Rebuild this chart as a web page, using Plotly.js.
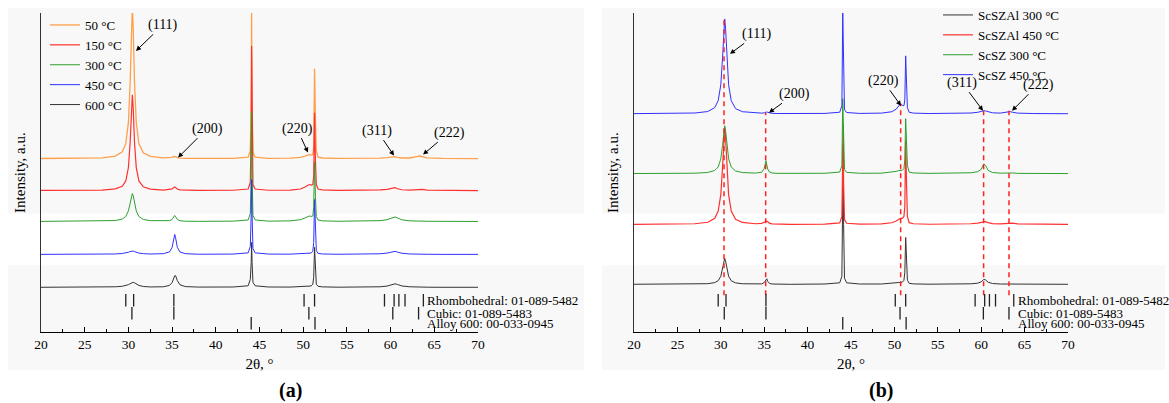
<!DOCTYPE html>
<html>
<head>
<meta charset="utf-8">
<script src="https://cdn.plot.ly/plotly-3.0.1.min.js"></script>
<style>html,body{margin:0;padding:0;background:#fff;}#chart{width:1169px;height:403px;}</style>
</head>
<body>
<div id="chart"></div>
<script>
// 2θ grid (degrees)
const twoTheta = [
  20, 24, 27, 28.5, 29.3, 29.7, 30.0, 30.2, 30.35, 30.45, 30.55, 30.7, 30.9, 31.2, 31.7, 32.5,
  34, 34.7, 35.0, 35.2, 35.3, 35.4, 35.6, 35.9, 36.5, 38,
  42, 43.7, 43.95, 44.05, 44.1, 44.15, 44.25, 44.5, 46,
  48.5, 49.7, 50.2, 50.5, 50.7, 50.9, 51.1, 51.2, 51.3, 51.4, 51.5, 51.7, 52.2, 54,
  57, 58.8, 59.6, 60.0, 60.3, 60.5, 60.8, 61.3, 62.2, 62.8, 63.1, 63.3, 63.6, 64.2, 66, 70
];

// Panel (a) intensities (a.u., above each pattern's baseline)
const a50C = [
  0.1, 0.2, 0.8, 2.5, 6.8, 15, 36, 76, 131, 152, 131, 76, 36, 15, 5.8, 2.2,
  0.8, 0.8, 1.2, 2.2, 2.4, 2, 1, 0.5, 0.3, 0.2,
  0.3, 1.5, 8, 60, 147, 60, 6, 1.5, 0.3,
  0.4, 1.2, 2.5, 3.8, 4, 3.5, 4, 12, 90, 40, 8, 1.5, 0.6, 0.2,
  0.2, 0.5, 1, 1.6, 2.2, 2, 1.2, 0.6, 0.6, 1.2, 2.2, 2.6, 1.8, 0.7, 0.2, 0
];
const a150C = [
  0.1, 0.15, 0.5, 1.6, 4.3, 9.6, 23, 48, 83, 96, 83, 48, 23, 9.6, 3.7, 1.4,
  0.5, 1, 1.6, 3, 3.5, 3, 1.5, 0.6, 0.3, 0.2,
  0.3, 1.5, 8, 60, 145, 60, 6, 1.5, 0.3,
  0.5, 1.5, 3.5, 5.5, 6, 5.5, 6, 14, 78, 30, 6, 1.5, 0.6, 0.2,
  0.2, 0.6, 1.2, 2.2, 3, 2.8, 1.8, 0.8, 0.5, 0.9, 1.4, 1.6, 1.2, 0.5, 0.2, 0
];
const a300C = [
  0.05, 0.1, 0.3, 0.9, 2.4, 5, 10.6, 18.5, 25.9, 28, 25.9, 18.5, 10.6, 5, 2, 0.8,
  0.4, 0.8, 2, 4.8, 6, 4.8, 2, 0.7, 0.25, 0.1,
  0.3, 1.5, 8, 50, 110, 50, 6, 1.5, 0.3,
  0.6, 1.8, 3.5, 5, 5.5, 5, 5.5, 14, 60, 25, 5, 1.5, 0.6, 0.2,
  0.3, 0.8, 1.8, 3, 4.2, 4.5, 3.5, 1.6, 0.6, 0.4, 0.5, 0.5, 0.4, 0.2, 0.1, 0
];
const a450C = [
  0, 0.05, 0.15, 0.4, 0.9, 1.4, 2.1, 2.8, 3.3, 3.5, 3.3, 2.8, 2.1, 1.3, 0.7, 0.35,
  0.7, 2.4, 7, 16.6, 20, 16.6, 7, 2.4, 0.7, 0.15,
  0.3, 1.5, 8, 40, 75, 40, 6, 1.5, 0.3,
  0.2, 0.5, 0.8, 1, 1.1, 1.3, 3, 12, 55, 20, 4, 1, 0.4, 0.1,
  0.2, 0.6, 1.3, 2.2, 3, 3, 2.3, 1.1, 0.4, 0.2, 0.2, 0.2, 0.2, 0.1, 0, 0
];
const a600C = [
  0, 0.05, 0.2, 0.5, 1, 1.6, 2.6, 3.6, 4.4, 4.9, 5, 4.5, 3.3, 1.9, 0.8, 0.35,
  0.5, 1.9, 4.7, 9.3, 11.6, 11.6, 6.7, 2.5, 0.7, 0.2,
  0.3, 1.5, 8, 25, 45, 25, 5, 1.5, 0.3,
  0.2, 0.5, 0.8, 1, 1.1, 1.3, 3, 10, 40, 15, 3, 1, 0.4, 0.1,
  0.2, 0.5, 1.2, 2.2, 3.2, 3.5, 2.8, 1.3, 0.5, 0.3, 0.2, 0.2, 0.2, 0.1, 0, 0
];

// Panel (b) intensities
const bScSZAl300 = [
  0.02, 0.06, 0.2, 0.6, 1.7, 3.6, 8, 15.3, 23.4, 26, 23.4, 15.3, 8, 3.6, 1.4, 0.55,
  0.1, 0.4, 1.7, 5, 5.5, 3, 0.9, 0.3, 0.1, 0,
  0.3, 1.5, 8, 70, 140, 60, 6, 1.5, 0.3,
  0.3, 0.8, 1.3, 1.8, 2, 2, 4, 12, 47, 22, 4, 1, 0.4, 0.1,
  0.2, 0.5, 1.1, 2.5, 4.9, 4.4, 2.1, 0.8, 0.3, 0.3, 0.4, 0.4, 0.3, 0.1, 0, 0
];
const bScSZAl450 = [
  0.08, 0.2, 0.7, 2.2, 6.2, 13.4, 29.9, 57, 87, 97, 87, 57, 29.9, 13.4, 5.2, 2,
  0.7, 1.1, 1.8, 3, 3.2, 2.6, 1.3, 0.6, 0.3, 0.1,
  0.3, 1.5, 8, 60, 100, 40, 5, 1.2, 0.3,
  0.6, 1.7, 3.5, 5.5, 6.2, 6, 8, 18, 84, 40, 8, 1.8, 0.7, 0.2,
  0.3, 0.7, 1.3, 2.3, 3, 2.8, 1.8, 0.9, 0.5, 0.9, 1.6, 1.8, 1.3, 0.5, 0.2, 0
];
const bScSZ300 = [
  0.04, 0.1, 0.36, 1.1, 3.1, 6.6, 14.8, 28.3, 43.2, 48, 43.2, 28.3, 14.8, 6.6, 2.6, 1,
  0.5, 1.3, 4.8, 13, 9, 4.7, 1.6, 0.6, 0.2, 0.1,
  0.3, 1.5, 8, 75, 50, 25, 4, 1.2, 0.3,
  0.4, 1.2, 2.2, 3, 3.3, 3.2, 5, 14, 55, 35, 8, 1.5, 0.6, 0.2,
  0.3, 0.8, 1.9, 4.2, 9.7, 8.2, 3.2, 1.1, 0.4, 0.5, 0.8, 0.9, 0.6, 0.2, 0.1, 0
];
const bScSZ450 = [
  0.08, 0.2, 0.7, 2.2, 6.1, 13.1, 29, 56, 85.5, 95, 85.5, 56, 29, 13.1, 5.1, 2,
  0.7, 0.6, 0.8, 1.6, 1.8, 1.4, 0.7, 0.4, 0.2, 0.1,
  0.3, 1.5, 8, 101, 75, 30, 4, 1.2, 0.3,
  0.6, 2, 4.5, 8, 10, 8.5, 8, 14, 58, 30, 6, 1.5, 0.6, 0.2,
  0.3, 0.7, 1.4, 2.4, 3, 2.8, 1.8, 0.9, 0.6, 1.2, 2, 2.1, 1.5, 0.6, 0.2, 0
];

// Reference pattern line positions (2θ)
const rhombohedral = [29.7, 30.6, 35.2, 50.1, 51.3, 59.3, 60.4, 60.95, 61.65, 63.75];
const cubic = [30.4, 35.2, 50.65, 60.25, 63.2];
const alloy600 = [44.05, 51.35];
const refLabels = ['Rhombohedral: 01-089-5482', 'Cubic: 01-089-5483', 'Alloy 600: 00-033-0945'];

// Dashed guide lines in (b)
const guideX = [30.37, 35.17, 50.72, 60.28, 63.2];

// Peak labels
const hklLabels = ['(111)', '(200)', '(220)', '(311)', '(222)'];
const namesA = ['50 °C', '150 °C', '300 °C', '450 °C', '600 °C'];
const namesB = ['ScSZAl 300 °C', 'ScSZAl 450 °C', 'ScSZ 300 °C', 'ScSZ 450 °C'];

// ---------- layout / styling ----------
const W = 1169, H = 403;
const FONT = 'Liberation Serif, Times New Roman, serif';
const seriesA = [a50C, a150C, a300C, a450C, a600C];
const offsetsA = [174, 142, 111, 78, 45];
const colorsA = ['#ffa04a', '#ff3030', '#2ca02c', '#3030ff', '#333333'];
const widthsA = [1.3, 1.2, 1, 1, 1];
const seriesB = [bScSZAl300, bScSZAl450, bScSZ300, bScSZ450];
const offsetsB = [48, 108, 159, 219];
const colorsB = ['#333333', '#ff3030', '#2ca02c', '#3030ff'];
const widthsB = [1, 1.2, 1, 1];
const refRowY = [32, 19, 9];
const guideTop = [315, 220, 229, 222, 222];
const guideBottom = 37;

const traces = [];
seriesA.forEach((s, i) => traces.push({
  x: twoTheta, y: s.map(v => v + offsetsA[i]), mode: 'lines', name: namesA[i],
  line: {color: colorsA[i], width: widthsA[i]}, xaxis: 'x', yaxis: 'y', legend: 'legend', hoverinfo: 'skip'
}));
seriesB.forEach((s, i) => traces.push({
  x: twoTheta, y: s.map(v => v + offsetsB[i]), mode: 'lines', name: namesB[i],
  line: {color: colorsB[i], width: widthsB[i]}, xaxis: 'x2', yaxis: 'y2', legend: 'legend2', hoverinfo: 'skip'
}));
guideX.forEach((gx, i) => traces.push({
  x: [gx, gx], y: [guideBottom, guideTop[i]], mode: 'lines', showlegend: false,
  line: {color: '#ff2020', width: 1.5, dash: '5px,4px'}, xaxis: 'x2', yaxis: 'y2', hoverinfo: 'skip'
}));
const refSets = [rhombohedral, cubic, alloy600];
['', '2'].forEach(ax => {
  refSets.forEach((set, r) => traces.push({
    x: set, y: set.map(() => refRowY[r]), mode: 'markers', showlegend: false,
    marker: {symbol: 'line-ns', size: 9, line: {width: 1.3, color: '#222'}},
    xaxis: 'x' + ax, yaxis: 'y' + ax, hoverinfo: 'skip'
  }));
});

function px2x(p) { return p / W; }
function py2y(p) { return 1 - p / H; }

const xax = (dom) => ({
  domain: dom, range: [20, 70], dtick: 5, tick0: 20, ticks: 'inside', ticklen: 5, tickwidth: 1, tickcolor: '#000',
  minor: {dtick: 2.5, ticks: 'inside', ticklen: 3, tickcolor: '#000', tickwidth: 1},
  showline: true, linecolor: '#000', linewidth: 1, showgrid: false, zeroline: false,
  tickfont: {family: FONT, size: 13.5, color: '#000'},
  title: {text: '2θ, °', font: {family: FONT, size: 15, color: '#000'}, standoff: 7},
  fixedrange: true
});
const yax = (anchor) => ({
  domain: [py2y(332), py2y(12)], range: [0, 320], showticklabels: false, ticks: '', showgrid: false, zeroline: false,
  showline: true, linecolor: '#333', linewidth: 1, anchor: anchor,
  title: {text: 'Intensity, a.u.', font: {family: FONT, size: 15, color: '#000'}, standoff: 10},
  fixedrange: true
});

const annFont = {family: FONT, size: 14, color: '#000'};
function hkl(axis, x, y, ax, ay, text) {
  return {xref: 'x' + axis, yref: 'y' + axis, x: x, y: y, ax: ax, ay: ay, text: text, showarrow: true,
    arrowhead: 2, arrowsize: 1, arrowwidth: 1, arrowcolor: '#000', standoff: 0, font: annFont};
}
const annotations = [
  hkl('', 30.87, 282, 27, -26, hklLabels[0]),
  hkl('', 35.68, 175, 29, -29, hklLabels[1]),
  hkl('', 50.55, 180, -11, -24, hklLabels[2]),
  hkl('', 60.39, 177, -17, -25, hklLabels[3]),
  hkl('', 63.71, 178, 26, -22, hklLabels[4]),
  hkl('2', 31.06, 279, 27, -20, hklLabels[0]),
  hkl('2', 35.55, 220, 26, -19, hklLabels[1]),
  hkl('2', 50.76, 227, -18, -25, hklLabels[2]),
  hkl('2', 60.21, 222, -21, -28, hklLabels[3]),
  hkl('2', 63.55, 222, 26, -26, hklLabels[4]),
];
['', '2'].forEach(ax => refLabels.forEach((t, r) => annotations.push({
  xref: 'x' + ax, yref: 'y' + ax, x: 63.98, y: refRowY[r], text: t, showarrow: false,
  xanchor: 'left', yanchor: 'middle', font: {family: FONT, size: 13, color: '#000'}
})));
annotations.push({xref: 'paper', yref: 'paper', x: px2x(290), y: py2y(390), xanchor: 'center', yanchor: 'middle',
  text: '<b>(a)</b>', showarrow: false, font: {family: FONT, size: 20, color: '#000'}});
annotations.push({xref: 'paper', yref: 'paper', x: px2x(881), y: py2y(390), xanchor: 'center', yanchor: 'middle',
  text: '<b>(b)</b>', showarrow: false, font: {family: FONT, size: 20, color: '#000'}});

const band = (x0, x1, y0, y1) => ({type: 'rect', xref: 'paper', yref: 'paper', x0: px2x(x0), x1: px2x(x1),
  y0: py2y(y1), y1: py2y(y0), fillcolor: '#f8f8f8', line: {width: 0}, layer: 'below'});

const layout = {
  width: W, height: H, margin: {l: 0, r: 0, t: 0, b: 0},
  paper_bgcolor: '#ffffff', plot_bgcolor: 'rgba(0,0,0,0)',
  font: {family: FONT, color: '#000'},
  xaxis: Object.assign(xax([px2x(41), px2x(478)]), {anchor: 'y'}),
  yaxis: yax('x'),
  xaxis2: Object.assign(xax([px2x(634), px2x(1068)]), {anchor: 'y2'}),
  yaxis2: yax('x2'),
  legend: {x: px2x(45), y: py2y(10), xanchor: 'left', yanchor: 'top', bgcolor: 'rgba(0,0,0,0)',
    font: {family: FONT, size: 13, color: '#000'}, itemwidth: 30, tracegroupgap: 0},
  legend2: {x: px2x(938), y: py2y(-1), xanchor: 'left', yanchor: 'top', bgcolor: 'rgba(0,0,0,0)',
    font: {family: FONT, size: 13, color: '#000'}, itemwidth: 30, tracegroupgap: 0},
  shapes: [band(8, 584, 7, 213), band(8, 584, 265, 370), band(602, 1165, 7, 213), band(602, 1165, 265, 370)],
  annotations: annotations,
  showlegend: true
};

Plotly.newPlot('chart', traces, layout, {staticPlot: true, displayModeBar: false});
</script>
</body>
</html>
